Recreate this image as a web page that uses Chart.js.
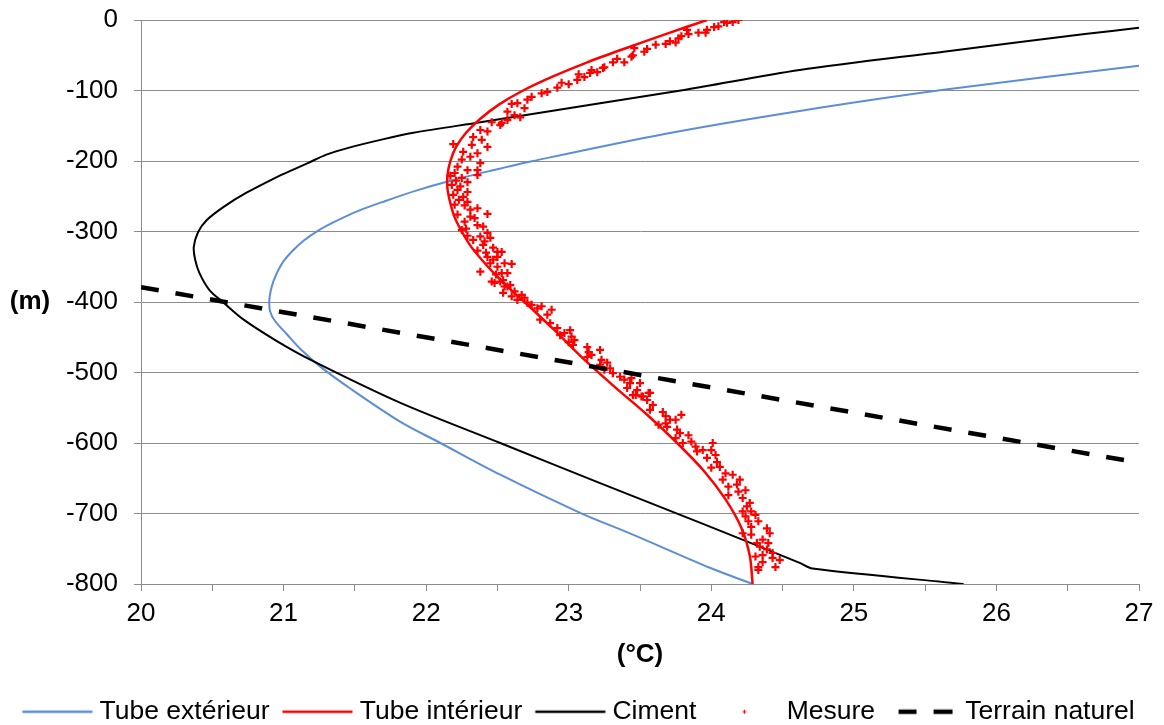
<!DOCTYPE html>
<html>
<head>
<meta charset="utf-8">
<script src="https://cdn.jsdelivr.net/npm/chart.js@4.4.1/dist/chart.umd.min.js"></script>
<style>
html,body{margin:0;padding:0;background:#fff;}
#wrap{position:relative;width:1164px;height:725px;}
</style>
</head>
<body>
<div id="wrap"><canvas id="c" width="1164" height="725"></canvas></div>
<script>
// ---------- DATA (temperature °C, depth m) ----------
const seriesNames = ['Tube extérieur', 'Tube intérieur', 'Ciment', 'Mesure', 'Terrain naturel'];

const tubeExtT = [27.0, 25.63, 24.62, 23.69, 22.75, 22.45, 22.17, 21.93, 21.71, 21.52, 21.37, 21.24, 21.14, 21.06, 21.0, 20.96, 20.93, 20.91, 20.90, 20.905, 20.94, 21.02, 21.12, 21.26, 21.47, 21.82, 22.1, 22.52, 23.08, 23.45, 23.99, 24.29];
const tubeExtZ = [-65, -99, -129, -161, -200, -214, -228, -242, -257, -271, -285, -299, -313, -328, -342, -356, -370, -384, -398, -413, -427, -445, -467, -492, -523, -570, -600, -645, -699, -730, -777, -800];

const tubeIntT = [23.97, 23.68, 23.40, 23.13, 22.89, 22.68, 22.51, 22.38, 22.28, 22.21, 22.17, 22.15, 22.15, 22.17, 22.20, 22.25, 22.31, 22.39, 22.48, 22.58, 22.69, 22.90, 23.10, 23.32, 23.55, 23.76, 23.95, 24.10, 24.21, 24.27, 24.29];
const tubeIntZ = [0, -20, -40, -60, -80, -100, -120, -140, -160, -180, -200, -220, -240, -260, -280, -300, -320, -340, -360, -380, -400, -440, -480, -520, -560, -600, -640, -680, -720, -760, -800];

const cimentT = [27.0, 26.62, 25.63, 24.62, 23.82, 23.22, 22.38, 21.91, 21.68, 21.46, 21.30, 21.17, 21.06, 20.97, 20.74, 20.58, 20.46, 20.40, 20.37, 20.38, 20.41, 20.48, 20.58, 20.72, 20.95, 21.19, 21.82, 22.52, 23.22, 23.92, 24.62, 24.71, 25.77];
const cimentZ = [-11, -20, -45, -71, -99, -118, -145, -160, -170, -181, -191, -203, -213, -221, -245, -265, -284, -301, -322, -340, -359, -383, -401, -425, -455, -482, -543, -600, -657, -713, -770, -778, -800];

const terrainT = [20, 27];
const terrainZ = [-379, -628];

const mesureT = [
 24.19,24.15,24.11,24.09,24.05,24.02,23.97,23.96,23.91,23.84,23.83,23.79,23.77,23.75,23.71,23.68,23.61,23.55,23.53,23.46,
 23.45,23.44,23.39,23.34,23.31,23.25,23.24,23.2,23.16,23.15,23.11,23.07,23.06,23.0,22.95,22.92,22.85,22.81,22.74,22.71,
 22.69,22.64,22.6,22.57,22.62,22.66,22.57,22.53,
 22.46,22.52,22.43,22.38,22.33,22.39,22.32,22.43,22.19,22.26,22.36,22.31,22.25,22.38,22.22,22.29,22.36,22.2,22.36,22.25,
 22.29,22.18,22.22,22.29,22.19,22.26,22.29,22.2,22.31,22.36,22.43,22.22,22.34,22.27,22.36,22.4,22.25,22.43,22.38,22.45,
 22.4,22.47,22.5,22.53,22.43,22.5,22.47,22.55,22.6,22.38,22.5,22.53,22.57,22.46,22.48,22.54,22.59,22.55,
 22.21,22.24,22.17,22.23,22.27,22.31,22.28,22.33,22.36,22.42,22.45,22.49,22.41,22.29,
 22.52,22.57,22.54,22.62,22.6,22.67,22.64,22.69,22.74,22.71,22.78,22.81,22.85,22.88,22.8,22.87,22.92,22.97,23.01,22.94,
 23.02,23.0,23.04,23.03,23.13,23.14,23.22,23.16,23.13,23.23,23.27,23.22,23.29,23.25,23.31,23.36,23.39,23.44,23.43,23.5,
 23.41,23.48,23.45,23.52,23.56,
 23.47,23.57,23.51,23.55,23.59,23.57,23.66,23.68,23.71,23.68,23.75,23.79,23.63,23.69,23.76,23.78,23.75,23.84,23.8,23.86,
 23.89,23.9,23.94,23.97,24.01,24.0,24.03,24.04,24.0,24.06,24.1,24.08,24.15,24.12,24.18,24.2,24.12,24.19,24.24,24.22,
 24.27,24.25,24.22,24.28,24.24,24.31,24.26,24.33,24.28,24.22,24.39,24.41,24.28,24.36,24.32,24.34,24.4,24.39,24.43,24.36,
 24.31,24.43,24.48,24.36,24.33,24.45,24.33
];
const mesureZ = [
 0,-3,-4,-3,-9,-10,-14,-18,-18,-20,-14,-23,-26,-32,-30,-34,-35,-41,-45,-40,
 -50,-52,-60,-55,-60,-67,-68,-74,-71,-75,-81,-77,-85,-91,-89,-96,-102,-104,-109,-113,
 -125,-118,-119,-130,-135,-138,-142,-146,
 -145,-149,-158,-156,-166,-170,-177,-180,-176,-187,-189,-194,-198,-203,-208,-213,-213,-217,-220,-224,
 -230,-234,-241,-244,-248,-251,-258,-262,-269,-267,-275,-276,-281,-286,-291,-293,-298,-302,-307,-309,
 -319,-323,-329,-329,-336,-336,-340,-345,-346,-357,-350,-359,-359,-371,-373,-369,-376,-378,
 -228,-236,-221,-255,-263,-279,-296,-312,-327,-330,-345,-361,-314,-306,
 -371,-378,-387,-385,-392,-390,-397,-394,-404,-401,-409,-406,-418,-411,-425,-430,-437,-444,-440,-447,
 -449,-457,-454,-461,-464,-471,-468,-475,-478,-482,-486,-489,-494,-496,-501,-506,-510,-508,-515,-515,
 -522,-525,-532,-534,-529,
 -532,-529,-534,-539,-546,-553,-556,-562,-567,-572,-567,-560,-574,-577,-581,-586,-593,-589,-600,-598,
 -605,-612,-610,-621,-600,-610,-617,-627,-635,-634,-643,-652,-645,-662,-659,-652,-674,-669,-667,-678,
 -685,-690,-697,-697,-704,-702,-711,-711,-719,-728,-721,-728,-730,-737,-742,-747,-742,-751,-756,-759,
 -761,-763,-766,-769,-776,-776,-780
];

const xRange = [20, 27];
const yRange = [-800, 0];
const xLabelTitle = '(°C)';
const yLabelTitle = '(m)';

// ---------- helpers ----------
const pts = (xs, ys) => xs.map((x, i) => ({x: x, y: ys[i]}));
const FONT = "'Liberation Sans', Arial, Helvetica, sans-serif";
Chart.defaults.font.family = FONT;
Chart.defaults.color = '#000';

const COLORS = {ext: '#5b8ed6', int: '#ff0000', cim: '#000000', mes: '#ff0000', ter: '#000000'};
const GRID = '#8c8c8c';

function legendImage(kind, color) {
  const c = document.createElement('canvas');
  c.width = 90; c.height = 12;
  const g = c.getContext('2d');
  g.strokeStyle = color;
  if (kind === 'line') {
    g.lineWidth = 2.5;
    g.beginPath(); g.moveTo(19.5, 6); g.lineTo(89.5, 6); g.stroke();
  } else if (kind === 'dash') {
    g.lineWidth = 4.5;
    g.beginPath(); g.moveTo(30, 6); g.lineTo(48, 6); g.moveTo(65, 6); g.lineTo(84, 6); g.stroke();
  } else if (kind === 'cross') {
    g.lineWidth = 1.2;
    g.beginPath(); g.moveTo(52.5, 6); g.lineTo(56.5, 6); g.moveTo(54.5, 4); g.lineTo(54.5, 8); g.stroke();
  }
  return c;
}
const legendImgs = [
  legendImage('line', COLORS.ext),
  legendImage('line', COLORS.int),
  legendImage('line', COLORS.cim),
  legendImage('cross', COLORS.mes),
  legendImage('dash', COLORS.ter)
];

const sideTitle = {
  id: 'sideTitle',
  afterDraw(chart) {
    const {ctx, chartArea} = chart;
    ctx.save();
    ctx.font = "bold 26px " + FONT;
    ctx.fillStyle = '#000';
    ctx.textAlign = 'center';
    ctx.textBaseline = 'middle';
    ctx.fillText(yLabelTitle, 30, (chartArea.top + chartArea.bottom) / 2);
    ctx.restore();
  }
};

new Chart(document.getElementById('c'), {
  type: 'scatter',
  data: {
    datasets: [
      {label: seriesNames[0], data: pts(tubeExtT, tubeExtZ), showLine: true, borderColor: COLORS.ext, backgroundColor: COLORS.ext, borderWidth: 2, pointRadius: 0, tension: 0.3, order: 4},
      {label: seriesNames[1], data: pts(tubeIntT, tubeIntZ), showLine: true, borderColor: COLORS.int, backgroundColor: COLORS.int, borderWidth: 2.5, pointRadius: 0, tension: 0.3, order: 2},
      {label: seriesNames[2], data: pts(cimentT, cimentZ), showLine: true, borderColor: COLORS.cim, backgroundColor: COLORS.cim, borderWidth: 2, pointRadius: 0, tension: 0.3, order: 3},
      {label: seriesNames[3], data: pts(mesureT, mesureZ), showLine: false, pointStyle: 'cross', pointRadius: 4, borderColor: COLORS.mes, backgroundColor: COLORS.mes, borderWidth: 2.2, order: 1},
      {label: seriesNames[4], data: pts(terrainT, terrainZ), showLine: true, borderColor: COLORS.ter, backgroundColor: COLORS.ter, borderWidth: 4.5, borderDash: [18, 17], pointRadius: 0, order: 0}
    ]
  },
  options: {
    responsive: false,
    animation: false,
    devicePixelRatio: 1,
    layout: {padding: {left: 5, right: 25, top: 20, bottom: -10}},
    plugins: {
      tooltip: {enabled: false},
      legend: {
        position: 'bottom',
        labels: {
          usePointStyle: true,
          pointStyleWidth: 77,
          boxHeight: 10,
          padding: 0,
          color: '#000',
          font: {size: 26.5, family: FONT},
          generateLabels(chart) {
            return chart.data.datasets.map((ds, i) => ({
              text: ds.label,
              fillStyle: ds.borderColor,
              strokeStyle: ds.borderColor,
              lineWidth: 0,
              pointStyle: legendImgs[i],
              hidden: false,
              datasetIndex: i,
              fontColor: '#000'
            }));
          }
        }
      }
    },
    scales: {
      x: {
        type: 'linear',
        min: xRange[0], max: xRange[1],
        ticks: {
          stepSize: 0.5, autoSkip: false, maxRotation: 0, padding: 7,
          color: '#000', font: {size: 26},
          callback: v => Math.abs(v - Math.round(v)) < 1e-6 ? String(Math.round(v)) : ''
        },
        grid: {drawOnChartArea: false, drawTicks: true, tickLength: 7, color: GRID},
        border: {color: GRID},
        title: {display: true, text: xLabelTitle, color: '#000', font: {size: 26, weight: 'bold'}, padding: {top: 0, bottom: 28}},
        afterFit(s) { s.height = 114.5; }
      },
      y: {
        type: 'linear',
        min: yRange[0], max: yRange[1],
        ticks: {stepSize: 100, padding: 16, color: '#000', font: {size: 26}},
        grid: {color: GRID, tickLength: 7},
        border: {color: GRID},
        afterFit(s) { s.width = 136; s.paddingTop = 0; s.paddingBottom = 0; }
      }
    }
  },
  plugins: [sideTitle]
});
</script>
</body>
</html>
